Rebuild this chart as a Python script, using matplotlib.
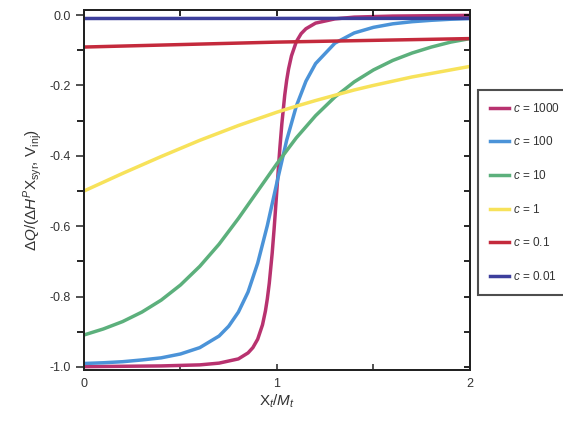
import numpy as np
import matplotlib
matplotlib.use("Agg")
import matplotlib.pyplot as plt
from matplotlib.ticker import MultipleLocator, FixedLocator

plt.rcParams['font.family'] = ['Liberation Sans', 'DejaVu Sans']
plt.rcParams['axes.unicode_minus'] = False
plt.rcParams['mathtext.fontset'] = 'custom'
plt.rcParams['mathtext.rm'] = 'Liberation Sans'
plt.rcParams['mathtext.it'] = 'Liberation Sans:italic'

# values (molar ratio -> normalised heat)
x_c1000 = [0, 0.2, 0.4, 0.6, 0.7, 0.8, 0.85, 0.875, 0.9, 0.925, 0.94, 0.95, 0.96,
           0.975, 0.985, 0.99, 1.0, 1.01, 1.015, 1.025, 1.04, 1.05, 1.06, 1.075,
           1.1, 1.125, 1.15, 1.2, 1.3, 1.4, 1.6, 1.8, 2.0]
y_c1000 = [-0.999, -0.998, -0.997, -0.994, -0.989, -0.977, -0.960, -0.945, -0.921,
           -0.880, -0.841, -0.806, -0.762, -0.677, -0.608, -0.570, -0.492, -0.414,
           -0.377, -0.310, -0.228, -0.186, -0.153, -0.116, -0.076, -0.053, -0.039,
           -0.023, -0.011, -0.006, -0.003, -0.002, -0.001]

x_c100 = [0, 0.1, 0.2, 0.3, 0.4, 0.5, 0.6, 0.7, 0.75, 0.8, 0.85, 0.9, 0.95, 1.0,
          1.05, 1.1, 1.15, 1.2, 1.3, 1.4, 1.5, 1.6, 1.7, 1.8, 1.9, 2.0]
y_c100 = [-0.990, -0.988, -0.985, -0.980, -0.974, -0.963, -0.945, -0.912, -0.884,
          -0.844, -0.787, -0.705, -0.598, -0.475, -0.356, -0.259, -0.188, -0.138,
          -0.080, -0.051, -0.035, -0.025, -0.019, -0.015, -0.012, -0.010]

x_grid = [0, 0.1, 0.2, 0.3, 0.4, 0.5, 0.6, 0.7, 0.8, 0.9, 1.0,
          1.1, 1.2, 1.3, 1.4, 1.5, 1.6, 1.7, 1.8, 1.9, 2.0]
y_c10 = [-0.909, -0.892, -0.871, -0.844, -0.810, -0.767, -0.714, -0.651, -0.578,
         -0.500, -0.422, -0.349, -0.286, -0.233, -0.190, -0.156, -0.129, -0.108,
         -0.091, -0.077, -0.067]
y_c1 = [-0.500, -0.475, -0.450, -0.426, -0.402, -0.379, -0.356, -0.335, -0.314,
        -0.295, -0.276, -0.259, -0.243, -0.228, -0.213, -0.200, -0.188, -0.176,
        -0.166, -0.156, -0.146]

x_low = [0, 0.5, 1.0, 1.5, 2.0]
y_c01 = [-0.091, -0.084, -0.077, -0.072, -0.067]
y_c001 = [-0.0099, -0.0098, -0.0097, -0.0096, -0.0095]

labels = ['$c$ = 1000', '$c$ = 100', '$c$ = 10', '$c$ = 1', '$c$ = 0.1', '$c$ = 0.01']
colors = ['#b8326f', '#4b93d8', '#5cb07c', '#f7e25a', '#c42a3c', '#3d3f9c']

fig = plt.figure(figsize=(5.63, 4.26), dpi=100)
ax = fig.add_axes([0.1492, 0.1315, 0.6856, 0.845])

series = [(x_c1000, y_c1000), (x_c100, y_c100), (x_grid, y_c10),
          (x_grid, y_c1), (x_low, y_c01), (x_low, y_c001)]
lines = []
for (xs, ys), col, lab in zip(series, colors, labels):
    ln, = ax.plot(xs, ys, color=col, lw=2.5, label=lab, solid_joinstyle='round')
    lines.append(ln)

ax.set_xlim(0, 2)
ax.set_ylim(-1.0085, 0.0142)

# left: outward ticks, labelled every 0.2
ax.yaxis.set_major_locator(MultipleLocator(0.2))
ax.yaxis.set_minor_locator(MultipleLocator(0.1))
ax.yaxis.set_major_formatter(plt.FuncFormatter(lambda v, p: f"{v:.1f}"))
ax.tick_params(axis='y', which='major', direction='out', length=6, width=1.2,
               labelsize=9, colors='#333333', left=True, right=False)
ax.tick_params(axis='y', which='minor', direction='out', length=5, width=1.2,
               left=True, right=False)

# bottom ticks inward
ax.xaxis.set_major_locator(FixedLocator([0, 1, 2]))
ax.xaxis.set_minor_locator(FixedLocator([0.5, 1.5]))
ax.tick_params(axis='x', which='both', direction='in', length=4, width=1.2,
               labelsize=9, colors='#333333', pad=6)

# right and top inward ticks on twin axes
axr = ax.twinx()
axr.set_ylim(ax.get_ylim())
axr.yaxis.set_major_locator(MultipleLocator(0.1))
axr.tick_params(axis='y', direction='in', length=4, width=1.2, labelright=False)
axt = ax.twiny()
axt.set_xlim(ax.get_xlim())
axt.xaxis.set_major_locator(FixedLocator([0.5, 1.0, 1.5]))
axt.tick_params(axis='x', direction='in', length=4, width=1.2, labeltop=False)

for a in (ax, axr, axt):
    for s in a.spines.values():
        s.set_linewidth(1.3)
        s.set_color('#222222')

ax.set_xlabel('X$_t$/$M_t$', fontsize=11, color='#333333', labelpad=2)
ax.set_ylabel(r'Δ$Q$/(Δ$H^P$X$_{\mathrm{syr}}$, V$_{\mathrm{inj}}$)', fontsize=11,
              color='#333333', labelpad=4)

leg = fig.legend(lines, labels, loc='upper left', bbox_to_anchor=(0.849, 0.789),
                 fontsize=8.5, frameon=True, fancybox=False, edgecolor='#222222',
                 handlelength=1.6, handletextpad=0.4, labelspacing=1.75,
                 borderpad=1.0, borderaxespad=0)
leg.get_frame().set_linewidth(1.5)
for t in leg.get_texts():
    t.set_color('#333333')

fig.savefig('out.png', dpi=100)
plt.close(fig)
